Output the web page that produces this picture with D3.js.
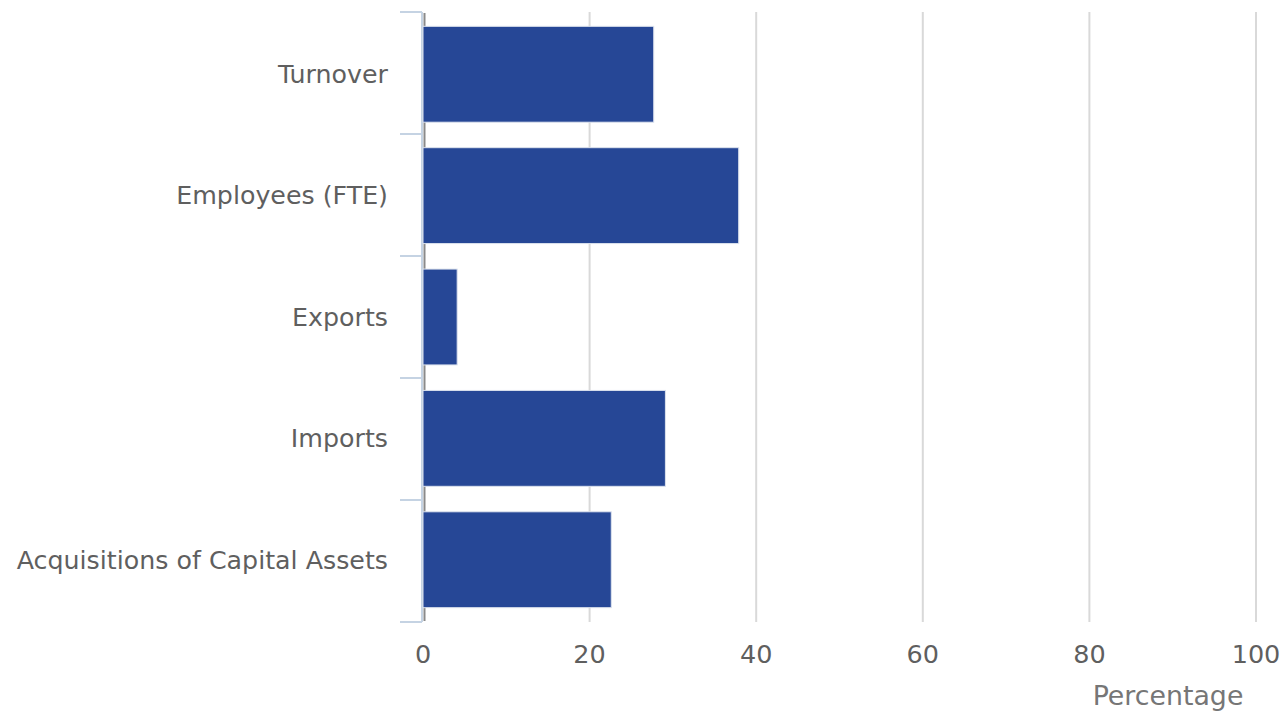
<!DOCTYPE html>
<html>
<head>
<meta charset="utf-8">
<script src="https://cdn.jsdelivr.net/npm/d3@7"></script>
<style>
  body { margin: 0; background: #fff; }
  text { font-family: "DejaVu Sans", sans-serif; }
</style>
</head>
<body>
<script>
// data
var categories = ["Turnover", "Employees (FTE)", "Exports", "Imports", "Acquisitions of Capital Assets"];
var values = [27.7, 37.9, 4.1, 29.1, 22.6];
var xTicks = [0, 20, 40, 60, 80, 100];

var w = 1288, h = 711;
var margin = {top: 12, right: 32, bottom: 89, left: 423};

var svg = d3.select("body").append("svg")
  .attr("width", w)
  .attr("height", h);

var x = d3.scaleLinear().domain([0, 100]).range([margin.left, w - margin.right]);
var y = d3.scaleBand().domain(categories)
  .range([margin.top, h - margin.bottom])
  .paddingInner(0.21)
  .paddingOuter(0.118);

// band boundaries for the category ticks
var step = (h - margin.bottom - margin.top) / categories.length;
var bounds = d3.range(categories.length + 1).map(function(i) { return margin.top + i * step; });

// gridlines
svg.append("g").selectAll("line")
  .data(xTicks.slice(1))
  .enter().append("line")
  .attr("x1", function(d) { return x(d); })
  .attr("x2", function(d) { return x(d); })
  .attr("y1", margin.top)
  .attr("y2", h - margin.bottom)
  .attr("stroke", "#d9d9d9")
  .attr("stroke-width", 2);

// y axis line + ticks
svg.append("line")
  .attr("x1", margin.left - 1).attr("x2", margin.left - 1)
  .attr("y1", margin.top).attr("y2", h - margin.bottom)
  .attr("stroke", "#c5d3e3").attr("stroke-width", 2);

svg.append("g").selectAll("line")
  .data(bounds)
  .enter().append("line")
  .attr("x1", margin.left - 23)
  .attr("x2", margin.left - 1)
  .attr("y1", function(d) { return d; })
  .attr("y2", function(d) { return d; })
  .attr("stroke", "#c5d3e3")
  .attr("stroke-width", 2);

// zero line (shows only in the gaps between bars)
svg.append("line")
  .attr("x1", x(0) + 1.5).attr("x2", x(0) + 1.5)
  .attr("y1", margin.top + 1).attr("y2", h - margin.bottom - 1)
  .attr("stroke", "#8a8a8a").attr("stroke-width", 2);

// bars
svg.append("g").selectAll("rect")
  .data(values)
  .enter().append("rect")
  .attr("x", x(0))
  .attr("y", function(d, i) { return y(categories[i]); })
  .attr("width", function(d) { return x(d) - x(0); })
  .attr("height", y.bandwidth())
  .attr("fill", "#264796")
  .attr("stroke", "#dde3ee")
  .attr("stroke-width", 1);

// category labels
svg.append("g").selectAll("text")
  .data(categories)
  .enter().append("text")
  .attr("x", margin.left - 35)
  .attr("y", function(d) { return y(d) + y.bandwidth() / 2; })
  .attr("dy", "0.35em")
  .attr("text-anchor", "end")
  .attr("font-size", 25.3)
  .attr("fill", "#5f5f5f")
  .text(function(d) { return d; });

// x tick labels
svg.append("g").selectAll("text")
  .data(xTicks)
  .enter().append("text")
  .attr("x", function(d) { return x(d); })
  .attr("y", 654)
  .attr("dy", "0.35em")
  .attr("text-anchor", "middle")
  .attr("font-size", 25.5)
  .attr("fill", "#5f5f5f")
  .text(function(d) { return d; });

// axis title
svg.append("text")
  .attr("x", 1168)
  .attr("y", 696)
  .attr("dy", "0.35em")
  .attr("text-anchor", "middle")
  .attr("font-size", 26.8)
  .attr("fill", "#767676")
  .text("Percentage");
</script>
</body>
</html>
